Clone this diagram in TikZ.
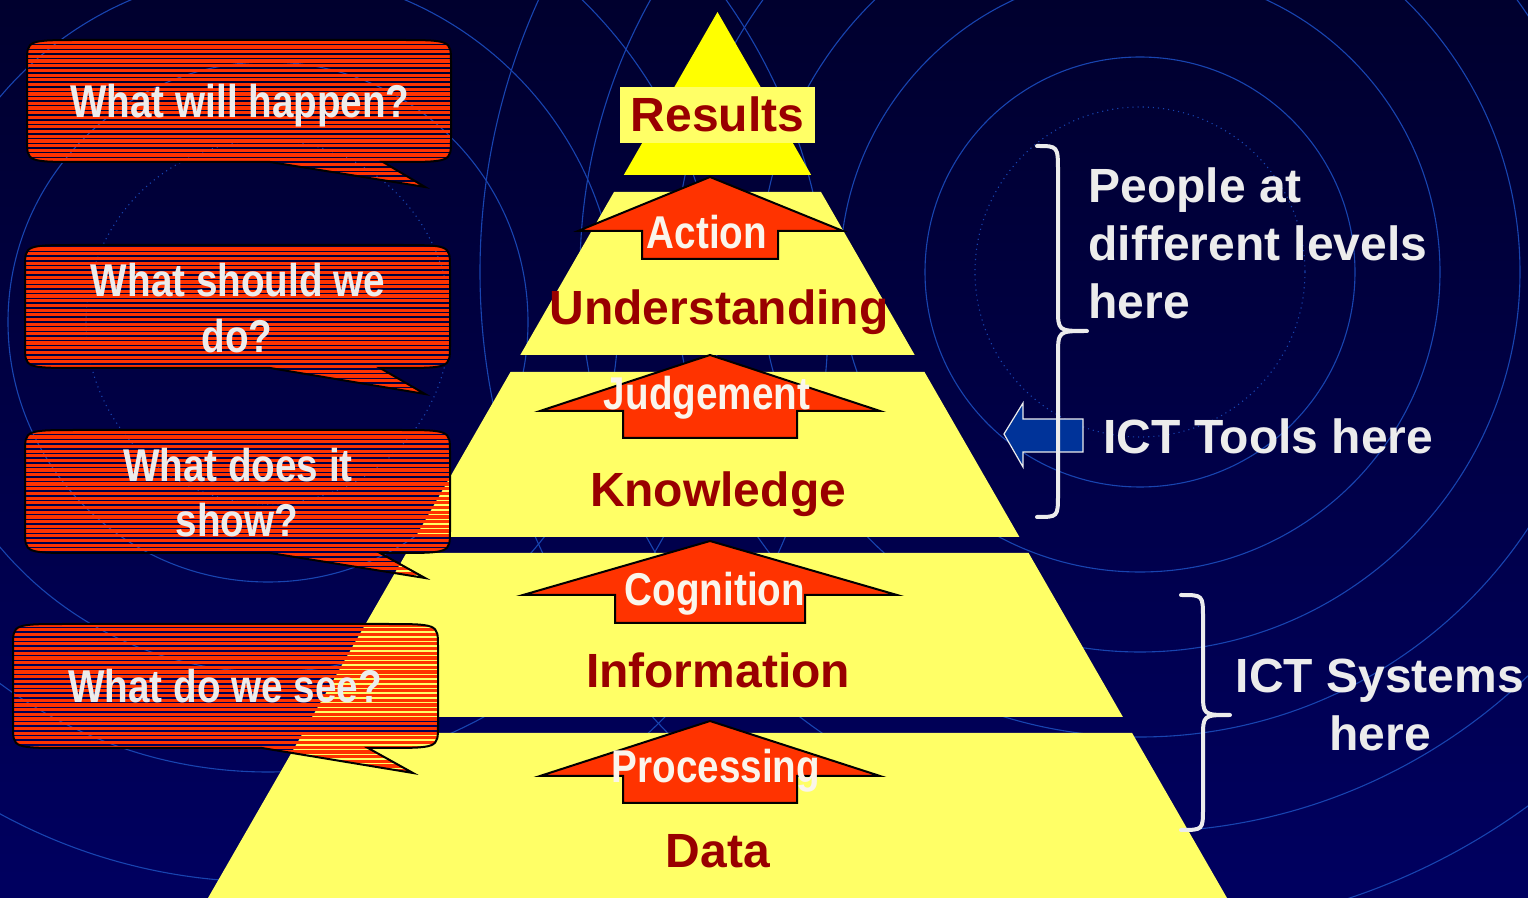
\documentclass[tikz,border=0pt]{standalone}
\usepackage{fontspec}
\setmainfont{Liberation Sans}
\newfontfamily\narrowfont[FakeStretch=0.84]{Liberation Sans}
\definecolor{bgtop}{RGB}{0,0,46}
\definecolor{bgbot}{RGB}{0,0,96}
\definecolor{ring}{RGB}{24,68,176}
\definecolor{pyr}{RGB}{255,255,102}
\definecolor{apex}{RGB}{255,255,0}
\definecolor{redarrow}{RGB}{255,51,0}
\definecolor{darkred}{RGB}{153,0,0}
\definecolor{offwhite}{RGB}{236,236,236}
\definecolor{lblwhite}{RGB}{250,245,236}
\definecolor{toolblue}{RGB}{0,51,153}
\newcommand\bubblepath[8]{(#1+55,#2) -- (#3-55,#2) .. controls (#3,#2) .. (#3,#2+22) -- (#3,#4-22) .. controls (#3,#4) .. (#3-55,#4) -- (#8,#4) -- (#6,#7) -- (#5,#4) -- (#1+55,#4) .. controls (#1,#4) .. (#1,#4-22) -- (#1,#2+22) .. controls (#1,#2) .. (#1+55,#2) -- cycle}
\newcommand\bubble[8]{%
  \begin{scope}
    \clip \bubblepath{#1}{#2}{#3}{#4}{#5}{#6}{#7}{#8};
    \foreach \yy in {0,4.7,...,898} \draw[redarrow, line width=1.6pt] (0,\yy) -- (480,\yy);
  \end{scope}
  \draw[bubedge] \bubblepath{#1}{#2}{#3}{#4}{#5}{#6}{#7}{#8};
}
\tikzset{
  ringline/.style={ring, line width=0.55pt},
  ringdot/.style={ring, line width=0.55pt, dotted},
  layer/.style={fill=pyr},
  uparrow/.style={fill=redarrow, draw=black, line width=1pt, line join=miter},
  bubedge/.style={draw=black, line width=1pt},
  lvl/.style={font=\fontsize{24}{28}\selectfont\bfseries, text=darkred, anchor=base, inner sep=0pt},
  arrlbl/.style={font=\narrowfont\fontsize{23}{28}\selectfont\bfseries, text=lblwhite, anchor=base, inner sep=0pt},
  bubtxt/.style={font=\narrowfont\fontsize{23}{28}\selectfont\bfseries, text=offwhite, anchor=base, inner sep=0pt},
  side/.style={font=\fontsize{24}{28}\selectfont\bfseries, text=offwhite, inner sep=0pt},
  bracestyle/.style={draw=offwhite, line width=2pt, line cap=round, line join=round},
}
\begin{document}
\begin{tikzpicture}[x=0.5pt,y=-0.5pt]
\useasboundingbox (0,0) rectangle (1528,898);
% background
\shade[top color=bgtop, bottom color=bgbot] (0,0) rectangle (1528,898);
\begin{scope}
\clip (0,0) rectangle (1528,898);
\foreach \r in {215,300,380,465,560,660} \draw[ringline] (1140,272) circle[radius=\r];
\draw[ringdot] (1140,272) circle[radius=165];
\foreach \r in {260,350,450,560} \draw[ringline] (268,322) circle[radius=\r];
\draw[ringdot] (268,322) circle[radius=182];
\end{scope}
% pyramid
\fill[apex] (717.5,12) -- (811.2,175) -- (623.8,175) -- cycle;
\fill[layer] (614,192) -- (821,192) -- (914.7,355) -- (520.3,355) -- cycle;
\fill[layer] (510.5,372) -- (924.5,372) -- (1019.4,537) -- (415.6,537) -- cycle;
\fill[layer] (406.4,553) -- (1028.6,553) -- (1122.9,717) -- (312.1,717) -- cycle;
\fill[layer] (302.9,733) -- (1132.1,733) -- (1227,898) -- (208,898) -- cycle;
\node[fill=pyr, minimum width=97.5pt, minimum height=28pt, inner sep=0pt] (resbox) at (717.5,115) {};
% up arrows
\draw[uparrow] (710,177) -- (843,231) -- (778,231) -- (778,259) -- (642,259) -- (642,231) -- (578,231) -- cycle;
\draw[uparrow] (710,355) -- (880,411) -- (797,411) -- (797,438) -- (623,438) -- (623,411) -- (540,411) -- cycle;
\draw[uparrow] (710,541) -- (897,595) -- (805,595) -- (805,623) -- (615,623) -- (615,595) -- (523,595) -- cycle;
\draw[uparrow] (710,721) -- (880,776) -- (797,776) -- (797,803) -- (623,803) -- (623,776) -- (540,776) -- cycle;
% level labels
\node[lvl] (results) at (717.5,132) {Results};
\node[lvl] (underst) at (719,325) {Understanding};
\node[lvl] (knowl) at (718,507) {Knowledge};
\node[lvl] (inform) at (718,688) {Information};
\node[lvl] (data) at (718,867) {Data};
% arrow labels
\node[arrlbl] (action) at (707,249) {Action};
\node[arrlbl] (judge) at (707,410) {Judgement};
\node[arrlbl] (cogn) at (715,606) {Cognition};
\node[arrlbl] (proc) at (716,783) {Processing};
% callouts
\bubble{27}{40}{451}{162}{270}{425}{187}{383}
\bubble{25}{245}{450}{368}{270}{425}{394}{380}
\bubble{25}{430}{450}{553}{270}{425}{578}{380}
\bubble{13}{624}{438}{748}{262}{413}{773}{368}
\node[bubtxt] (q1) at (240,118) {What will happen?};
\node[bubtxt] (q2a) at (238,297) {What should we};
\node[bubtxt] (q2b) at (237,353) {do?};
\node[bubtxt] (q3a) at (238,482) {What does it};
\node[bubtxt] (q3b) at (237,537) {show?};
\node[bubtxt] (q4) at (225,703) {What do we see?};
% blue tool arrow
\draw[fill=toolblue, draw=offwhite, line width=0.6pt] (1004,434) -- (1023,403) -- (1023,419) -- (1083,419) -- (1083,452) -- (1023,452) -- (1023,467) -- cycle;
% braces
\coordinate (b1top) at (1037,146);
\coordinate (b1tip) at (1087,331);
\coordinate (b1bot) at (1037,517);
\draw[bracestyle] (b1top) .. controls (1058,146) .. (1058,172) -- (1058,308) .. controls (1058,331) .. (b1tip) .. controls (1058,331) .. (1058,356) -- (1058,494) .. controls (1058,517) .. (b1bot);
\coordinate (b2top) at (1181,595);
\coordinate (b2tip) at (1230,715);
\coordinate (b2bot) at (1181,830);
\draw[bracestyle] (b2top) .. controls (1203,595) .. (1203,618) -- (1203,692) .. controls (1203,715) .. (b2tip) .. controls (1203,715) .. (1203,738) -- (1203,808) .. controls (1203,830) .. (b2bot);
% side texts
\node[side, anchor=base west] (pa) at (1088,203) {People at};
\node[side, anchor=base west] (pb) at (1088,261) {different levels};
\node[side, anchor=base west] (pc) at (1088,319) {here};
\node[side, anchor=base west] (tools) at (1103,454) {ICT Tools here};
\node[side, anchor=base] (sysa) at (1380,693) {ICT Systems};
\node[side, anchor=base] (sysb) at (1380,751) {here};
\end{tikzpicture}
\end{document}
